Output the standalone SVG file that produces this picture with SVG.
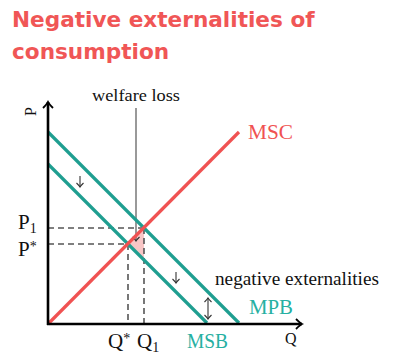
<svg xmlns="http://www.w3.org/2000/svg" width="408" height="364" viewBox="0 0 408 364">
<defs>
<marker id="ah" viewBox="-6 -6 12 12" markerWidth="12" markerHeight="12" refX="0" refY="0" orient="auto" markerUnits="userSpaceOnUse">
<path d="M-4,-3.5 Q-1,-0.5 0,0 Q-1,0.5 -4,3.5" fill="none" stroke="#333" stroke-width="1.1"/>
</marker>
<marker id="axh" viewBox="-8 -8 16 16" markerWidth="16" markerHeight="16" refX="0" refY="0" orient="auto" markerUnits="userSpaceOnUse">
<path d="M-6,-5 Q-2,-1 0,0 Q-2,1 -6,5" fill="none" stroke="#000" stroke-width="1.8"/>
</marker>
</defs>
<style>
.title{font-family:"DejaVu Sans",sans-serif;font-weight:bold;font-size:21.6px;fill:#f05656}
.lbl{font-family:"Liberation Serif",serif;fill:#111}
.teal{stroke:#1f9e90;stroke-width:3.2;fill:none}
.red{stroke:#f05252;stroke-width:3.2;fill:none}
.dash{stroke:#555;stroke-width:1.6;stroke-dasharray:6 4;fill:none}
.arr{stroke:#333;stroke-width:1.1;fill:none}
</style>
<g id="title">
<text class="title" x="12" y="27">Negative externalities of</text>
<text class="title" x="12" y="59">consumption</text>
</g>
<g id="welfare-area">
<polygon points="128,244 144,228 144,260" fill="#f8c6c6"/>
</g>
<g id="connectors">
<line class="dash" x1="48" y1="228" x2="144" y2="228"/>
<line class="dash" x1="48" y1="244" x2="128" y2="244"/>
<line class="dash" x1="128" y1="244" x2="128" y2="324"/>
<line class="dash" x1="144" y1="228" x2="144" y2="324"/>
<line x1="136" y1="108" x2="136" y2="241" stroke="#777" stroke-width="1.5" marker-end="url(#ah)"/>
<line class="teal" x1="48" y1="132" x2="239" y2="323"/>
<line class="teal" x1="48" y1="164" x2="207" y2="323"/>
<line class="red" x1="48" y1="324" x2="239" y2="132"/>
<line x1="48" y1="325" x2="48" y2="102" stroke="#000" stroke-width="2.6" marker-end="url(#axh)"/>
<line x1="47" y1="324" x2="302" y2="324" stroke="#000" stroke-width="2.6" marker-end="url(#axh)"/>
<line class="arr" x1="80" y1="176" x2="80" y2="187" marker-end="url(#ah)"/>
<line class="arr" x1="176" y1="272" x2="176" y2="283" marker-end="url(#ah)"/>
<line class="arr" x1="208" y1="308" x2="208" y2="298" marker-end="url(#ah)"/>
<line class="arr" x1="208" y1="308" x2="208" y2="319" marker-end="url(#ah)"/>
</g>
<g id="labels">
<text class="lbl" font-size="16" transform="translate(36,116) rotate(-90)">P</text>
<text class="lbl" font-size="16" x="285" y="344">Q</text>
<text class="lbl" font-size="17" x="92" y="101" textLength="88" lengthAdjust="spacingAndGlyphs">welfare loss</text>
<text class="lbl" font-size="21" x="248" y="139" style="fill:#f05252" textLength="45" lengthAdjust="spacingAndGlyphs">MSC</text>
<text class="lbl" font-size="21" x="18" y="229">P<tspan font-size="14" dy="4">1</tspan></text>
<text class="lbl" font-size="21" x="18" y="256">P<tspan font-size="14" dy="-5">*</tspan></text>
<text class="lbl" font-size="21" x="108" y="348">Q<tspan font-size="14" dy="-5">*</tspan></text>
<text class="lbl" font-size="21" x="137" y="348">Q<tspan font-size="14" dy="4">1</tspan></text>
<text class="lbl" font-size="21" x="187" y="348" style="fill:#26b0a2" textLength="41" lengthAdjust="spacingAndGlyphs">MSB</text>
<text class="lbl" font-size="21" x="249" y="314" style="fill:#26b0a2" textLength="44" lengthAdjust="spacingAndGlyphs">MPB</text>
<text class="lbl" font-size="18" x="215" y="285" textLength="164" lengthAdjust="spacingAndGlyphs">negative externalities</text>
</g>
</svg>
